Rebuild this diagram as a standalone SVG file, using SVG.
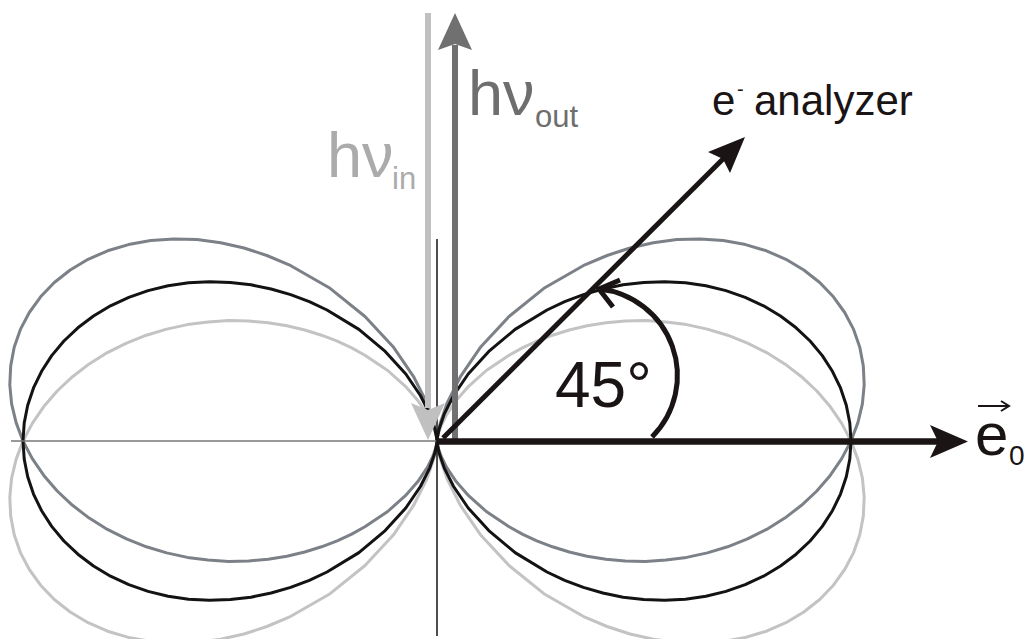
<svg xmlns="http://www.w3.org/2000/svg" width="1028" height="639" viewBox="0 0 1028 639">
<style>
.lobe{fill:none;stroke-width:3;stroke-linejoin:round}
.blk{stroke:#141212}
.dg{stroke:#7c8187}
.lg{stroke:#c3c3c5}
.t{font-family:"Liberation Sans",Arial,sans-serif}
</style>
<defs>
<path id="lobeB" d="M0,0 L0.3,-3.1 L2.2,-12.3 L7.2,-26.8 L16.6,-45.5 L31.2,-67 L51.8,-89.6 L78.1,-111.6 L110,-131 L127.7,-139.3 L146.4,-146.4 L165.9,-152 L186.1,-156.2 L206.7,-158.6 L227.6,-159.3 L248.4,-158.2 L268.9,-155.3 L288.9,-150.4 L308.2,-143.7 L326.5,-135.2 L343.5,-125 L359.1,-113.2 L373.1,-100 L385.3,-85.4 L395.4,-69.7 L403.5,-53.1 L409.3,-35.8 L412.8,-18 L414,0 L412.8,18 L409.3,35.8 L403.5,53.1 L395.4,69.7 L385.3,85.4 L373.1,100 L359.1,113.2 L343.5,125 L326.5,135.2 L308.2,143.7 L288.9,150.4 L268.9,155.3 L248.4,158.2 L227.6,159.3 L206.7,158.6 L186.1,156.2 L165.9,152 L146.4,146.4 L127.7,139.3 L110,131 L78.1,111.6 L51.8,89.6 L31.2,67 L16.6,45.5 L7.2,26.8 L2.2,12.3 L0.3,3.1 Z"/>
<path id="lobeG" d="M0,0 L0.4,-4.5 L3.2,-17.8 L10.3,-38.4 L23.6,-64.7 L43.9,-94.3 L72,-124.5 L106.9,-152.7 L147.9,-176.2 L170.1,-185.5 L193,-193 L216.3,-198.2 L239.9,-201.4 L263.3,-202 L286.3,-200.4 L308.5,-196.4 L329.4,-190.2 L348.9,-181.7 L366.8,-171 L382.7,-158.5 L396.4,-144.2 L407.7,-128.5 L416.6,-111.6 L422.8,-93.7 L426.3,-75.1 L427.2,-56.2 L425.4,-37.2 L420.9,-18.4 L414,0 L404.7,17.6 L393.2,34.4 L379.8,50 L364.5,64.3 L347.8,77.1 L329.6,88.4 L310.5,97.9 L290.6,105.8 L270.3,111.9 L249.6,116.4 L228.9,119.1 L208.4,120.4 L188.3,119.9 L168.9,118.2 L150.1,115.2 L132.3,111 L115.5,105.8 L99.8,99.8 L85.3,93.1 L72.1,85.8 L49.3,70.5 L31.6,54.7 L18.5,39.7 L9.6,26.3 L4.1,15.2 L1.2,6.8 L0.15,1.7 Z"/>
</defs>
<rect width="1028" height="639" fill="#ffffff"/>
<g id="lobes">
<use href="#lobeG" class="lobe lg" transform="translate(437,441) scale(1,-1)"/>
<use href="#lobeG" class="lobe lg" transform="translate(437,441) scale(-1,-1)"/>
<use href="#lobeG" class="lobe dg" transform="translate(437,441)"/>
<use href="#lobeG" class="lobe dg" transform="translate(437,441) scale(-1,1)"/>
<use href="#lobeB" class="lobe blk" transform="translate(437,441)"/>
<use href="#lobeB" class="lobe blk" transform="translate(437,441) scale(-1,1)"/>
</g>
<g id="connectors">
<line x1="11" y1="441" x2="437" y2="441" stroke="#777" stroke-width="1.5"/>
<line x1="437" y1="239" x2="437" y2="636" stroke="#141212" stroke-width="1.5"/>
<g id="hv-in-arrow">
<line x1="428" y1="13" x2="428" y2="408" stroke="#c0c0c0" stroke-width="6"/>
<path d="M428,440 L411,403 L428,410 L445,403 Z" fill="#c0c0c0"/>
</g>
<g id="hv-out-arrow">
<line x1="455" y1="441" x2="455" y2="45" stroke="#707070" stroke-width="6"/>
<path d="M455,13 L438,50 L455,44 L472,50 Z" fill="#707070"/>
</g>
<g id="e0-axis">
<line x1="437" y1="441.5" x2="940" y2="441.5" stroke="#1a1414" stroke-width="6.5"/>
<path d="M968,441.5 L930,425 L938,441.5 L930,458 Z" fill="#1a1414"/>
</g>
<g id="analyzer-arrow">
<line x1="443" y1="438" x2="725" y2="157" stroke="#1a1414" stroke-width="5"/>
<path d="M745,137 L708,152 L723,159 L730,173 Z" fill="#1a1414"/>
</g>
<g id="angle-arc" fill="none" stroke="#1a1414" stroke-width="5">
<path d="M652,437 A87,87 0 0 0 599,289"/>
<path d="M620,280 L599,289 L613,307" stroke-linejoin="miter"/>
</g>
<path d="M978,406 L1008,406 M1001,401 L1009,406 L1001,411" fill="none" stroke="#1a1414" stroke-width="2"/>
</g>
<g id="labels" class="t">
<text x="468" y="115" font-size="63" fill="#6e6e6e" class="t">hν<tspan x="535" y="127" font-size="31">out</tspan></text>
<text x="327" y="177" font-size="63" fill="#ababab" class="t">hν<tspan x="392" y="189" font-size="31">in</tspan></text>
<text x="712" y="115" font-size="42" fill="#1a1414" class="t">e<tspan x="737" y="96" font-size="20">-</tspan><tspan x="754" y="115">analyzer</tspan></text>
<text x="555" y="407" font-size="64" fill="#1a1414" class="t">45°</text>
<text x="975" y="455" font-size="60" fill="#1a1414" class="t">e<tspan x="1009" y="465" font-size="28">0</tspan></text>
</g>
</svg>
